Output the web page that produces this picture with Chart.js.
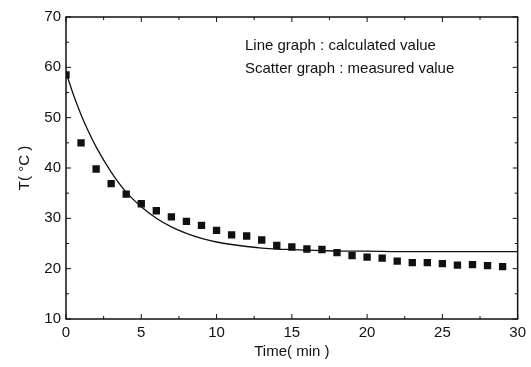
<!DOCTYPE html>
<html><head><meta charset="utf-8">
<script src="https://cdn.jsdelivr.net/npm/chart.js@4"></script>
<style>html,body{margin:0;padding:0;background:#fff}#wrap{width:531px;height:367px}</style>
</head><body><div id="wrap"><canvas id="c" width="531" height="367"></canvas></div>
<script>
const measuredTime = [0,1,2,3,4,5,6,7,8,9,10,11,12,13,14,15,16,17,18,19,20,21,22,23,24,25,26,27,28,29];
const measuredTemp = [58.5,45.0,39.8,36.9,34.8,32.9,31.5,30.3,29.4,28.6,27.6,26.7,26.5,25.7,24.6,24.3,23.9,23.8,23.2,22.6,22.3,22.1,21.5,21.2,21.2,21.0,20.7,20.8,20.6,20.4];
const calcTime = [0,0.5,1,1.5,2,3,4,5,6,7,8,9,10,11,12,13,14,15,16,17,18,20,22,24,26,28,30];
const calcTemp = [59.0,54.5,50.6,47.2,44.2,39.2,35.2,32.3,30.0,28.3,27.0,26.0,25.3,24.8,24.4,24.1,23.9,23.8,23.7,23.6,23.5,23.5,23.4,23.4,23.4,23.4,23.4];
const xTicks = [0,5,10,15,20,25,30];
const yTicks = [10,20,30,40,50,60,70];
const noteLines = ["Line graph : calculated value","Scatter graph : measured value"];

const FONT = "'Liberation Sans', Arial, sans-serif";
const INK = '#111';

const boxTicks = {
  id:'boxTicks',
  afterDraw(chart){
    const {ctx, chartArea:a, scales:{x,y}} = chart;
    ctx.save();
    ctx.strokeStyle = INK; ctx.lineWidth = 1.5;
    ctx.strokeRect(a.left, a.top, a.right-a.left, a.bottom-a.top);
    ctx.lineWidth = 1;
    ctx.beginPath();
    for (let i=0;i<xTicks.length;i++){
      const px = x.getPixelForValue(xTicks[i]);
      ctx.moveTo(px,a.bottom); ctx.lineTo(px,a.bottom-5);
      ctx.moveTo(px,a.top); ctx.lineTo(px,a.top+5);
      if (i<xTicks.length-1){
        const pm = x.getPixelForValue((xTicks[i]+xTicks[i+1])/2);
        ctx.moveTo(pm,a.bottom); ctx.lineTo(pm,a.bottom-3);
        ctx.moveTo(pm,a.top); ctx.lineTo(pm,a.top+3);
      }
    }
    for (let i=0;i<yTicks.length;i++){
      const py = y.getPixelForValue(yTicks[i]);
      ctx.moveTo(a.left,py); ctx.lineTo(a.left+5,py);
      ctx.moveTo(a.right,py); ctx.lineTo(a.right-5,py);
      if (i<yTicks.length-1){
        const pm = y.getPixelForValue((yTicks[i]+yTicks[i+1])/2);
        ctx.moveTo(a.left,pm); ctx.lineTo(a.left+3,pm);
        ctx.moveTo(a.right,pm); ctx.lineTo(a.right-3,pm);
      }
    }
    ctx.stroke();
    ctx.fillStyle = INK;
    ctx.font = '15px ' + FONT;
    ctx.textBaseline = 'middle';
    ctx.textAlign = 'left';
    ctx.fillText(noteLines[0], a.left+179, a.top+29);
    ctx.fillText(noteLines[1], a.left+179, a.top+52);
    ctx.restore();
  }
};

new Chart(document.getElementById('c'), {
  type:'scatter',
  data:{
    datasets:[
      {label:'calculated', type:'line', data: calcTime.map((t,i)=>({x:t,y:calcTemp[i]})),
       borderColor:INK, borderWidth:1.3, pointRadius:0, cubicInterpolationMode:'monotone', fill:false},
      {label:'measured', data: measuredTime.map((t,i)=>({x:t,y:measuredTemp[i]})),
       pointStyle:'rect', pointRadius:5.2, backgroundColor:INK, borderColor:INK, borderWidth:0}
    ]
  },
  options:{
    responsive:false, animation:false, devicePixelRatio:1,
    layout:{padding:{left:0,right:11,top:17,bottom:0}},
    plugins:{legend:{display:false}, tooltip:{enabled:false}},
    scales:{
      x:{type:'linear', min:0, max:30,
         afterBuildTicks(s){ s.ticks = xTicks.map(v=>({value:v})); },
         afterFit(s){ s.height = 48; },
         grid:{display:false, drawTicks:false}, border:{display:false},
         ticks:{color:INK, font:{family:FONT,size:15}, padding:5, maxRotation:0},
         title:{display:true, text:'Time( min )', color:INK, font:{family:FONT,size:15}, padding:{top:0,bottom:6}}},
      y:{type:'linear', min:10, max:70,
         afterBuildTicks(s){ s.ticks = yTicks.map(v=>({value:v})); },
         afterFit(s){ s.width = 66; },
         grid:{display:false, drawTicks:false}, border:{display:false},
         ticks:{color:INK, font:{family:FONT,size:15}, padding:5},
         title:{display:true, text:'T( °C )', color:INK, font:{family:FONT,size:15}, padding:{top:16,bottom:0}}}
    }
  },
  plugins:[boxTicks]
});
</script>
</body></html>
